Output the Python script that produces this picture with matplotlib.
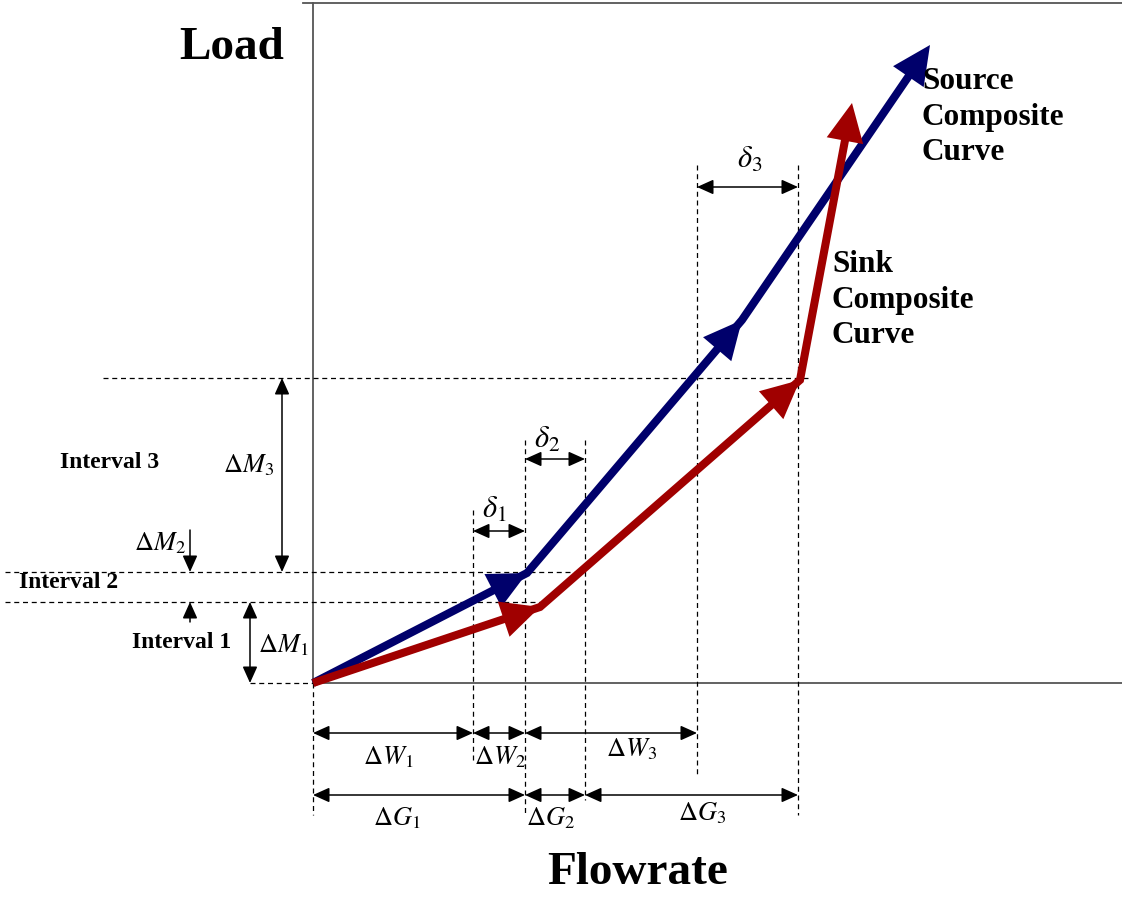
import numpy as np
import matplotlib.pyplot as plt

plt.rcParams['font.family'] = ['Liberation Serif', 'DejaVu Serif']
plt.rcParams['mathtext.fontset'] = 'stix'

# composite curves: (flowrate, load), origin at the corner of the axes
source_flow = [0, 214, 429, 617]
source_load = [0, 110, 363, 638]
sink_flow = [0, 227, 487, 539]
sink_load = [0, 76, 303, 580]

# interval boundaries
w_bounds = [0, 160, 212, 384]    # source flow steps  dW1..dW3
g_bounds = [0, 212, 272, 485]    # sink flow steps    dG1..dG3
m_bounds = [0, 81, 111, 305]     # load levels        dM1..dM3

w_labels = [r'$\Delta W_1$', r'$\Delta W_2$', r'$\Delta W_3$']
g_labels = [r'$\Delta G_1$', r'$\Delta G_2$', r'$\Delta G_3$']
d_labels = [r'$\delta_1$', r'$\delta_2$', r'$\delta_3$']

BLUE = '#00006b'
RED = '#a00000'
GREY = '#555555'


def px(x, y):
    # pixel position in the picture -> data coords
    return (x - 313, 683 - y)


fig = plt.figure(figsize=(11.22, 9), dpi=100)
ax = fig.add_axes([0, 0, 1, 1])
ax.set_xlim(-313, 809)
ax.set_ylim(-217, 683)
ax.axis('off')

# frame lines
ax.plot([0, 0], [0, 680], color=GREY, lw=1.3)
ax.plot([-10, 809], [680, 680], color=GREY, lw=1.3)
ax.plot([0, 809], [0, 0], color=GREY, lw=1.3)

dash = dict(color='black', lw=0.9, ls=(0, (4, 3)))
# horizontal guides at load levels
ax.plot([-210, 495], [m_bounds[3]] * 2, **dash)
ax.plot([-308, 269], [m_bounds[2]] * 2, **dash)
ax.plot([-308, sink_flow[1]], [m_bounds[1]] * 2, **dash)
ax.plot([-63, 0], [0, 0], **dash)
# vertical guides
ax.plot([0, 0], [0, -132], **dash)
ax.plot([w_bounds[1]] * 2, [173, -77], **dash)
ax.plot([g_bounds[1]] * 2, [243, -132], **dash)
ax.plot([g_bounds[2]] * 2, [243, -117], **dash)
ax.plot([w_bounds[3]] * 2, [518, -92], **dash)
ax.plot([g_bounds[3]] * 2, [518, -132], **dash)


def head(tip, back, color, scale=23):
    ax.annotate('', xy=tip, xytext=back,
                arrowprops=dict(arrowstyle='-|>,head_length=1.2,head_width=0.58',
                                mutation_scale=scale, lw=0, color=color,
                                shrinkA=0, shrinkB=0))


def curve(fx, fy, color):
    fx = np.array(fx, float)
    fy = np.array(fy, float)
    # pull last point back so the line hides under the arrowhead
    d = np.array([fx[-1] - fx[-2], fy[-1] - fy[-2]])
    d = d / np.hypot(*d)
    lx = fx.copy()
    ly = fy.copy()
    lx[-1] -= d[0] * 16
    ly[-1] -= d[1] * 16
    ax.plot(lx, ly, color=color, lw=5.8, solid_capstyle='butt',
            solid_joinstyle='miter')
    for i in range(1, len(fx)):
        head((fx[i], fy[i]), (fx[i - 1], fy[i - 1]), color)


curve(source_flow, source_load, BLUE)
curve(sink_flow, sink_load, RED)

dim = dict(arrowstyle='<|-|>,head_length=1.0,head_width=0.45',
           mutation_scale=10, lw=1.1, color='black', shrinkA=0, shrinkB=0)
one = dict(dim, arrowstyle='-|>,head_length=1.0,head_width=0.45')


def hdim(x1, x2, y):
    ax.annotate('', xy=(x2, y), xytext=(x1, y), arrowprops=dim)


def vdim(x, y1, y2):
    ax.annotate('', xy=(x, y2), xytext=(x, y1), arrowprops=dim)


for i in range(3):
    hdim(w_bounds[i], w_bounds[i + 1], -50)
    hdim(g_bounds[i], g_bounds[i + 1], -112)

hdim(w_bounds[1], w_bounds[2], 152)
hdim(g_bounds[1], g_bounds[2], 224)
hdim(w_bounds[3], g_bounds[3], 496)

vdim(-31, m_bounds[2], m_bounds[3])
vdim(-63, m_bounds[0], m_bounds[1])
ax.annotate('', xy=(-123, m_bounds[2]), xytext=(-123, 153), arrowprops=one)
ax.annotate('', xy=(-123, m_bounds[1]), xytext=(-123, 61), arrowprops=one)

# labels
mfs = 19
for lab, p in zip(w_labels, [(388, 757), (500, 757), (632, 749)]):
    ax.text(*px(*p), lab, fontsize=mfs, ha='center', va='center')
for lab, p in zip(g_labels, [(397, 818), (550, 818), (702, 813)]):
    ax.text(*px(*p), lab, fontsize=mfs, ha='center', va='center')
for lab, p in zip(d_labels, [(494, 510), (547, 440), (750, 160)]):
    ax.text(*px(*p), lab, fontsize=22, ha='center', va='center')

ax.text(*px(249, 465), r'$\Delta M_3$', fontsize=mfs, ha='center', va='center')
ax.text(*px(160, 543), r'$\Delta M_2$', fontsize=mfs, ha='center', va='center')
ax.text(*px(283, 645), r'$\Delta M_1$', fontsize=mfs, ha='center', va='center')

ifs = 17
ax.text(*px(110, 462), 'Interval 3', fontsize=ifs, fontweight='bold',
        ha='center', va='center')
ax.text(*px(69, 582), 'Interval 2', fontsize=ifs, fontweight='bold',
        ha='center', va='center')
ax.text(*px(182, 643), 'Interval 1', fontsize=ifs, fontweight='bold',
        ha='center', va='center')

ax.text(*px(232, 48), 'Load', fontsize=34, fontweight='bold',
        ha='center', va='center')
ax.text(*px(638, 873), 'Flowrate', fontsize=34, fontweight='bold',
        ha='center', va='center')

ax.text(*px(922, 67), 'Source\nComposite\nCurve', fontsize=22.5,
        fontweight='bold', ha='left', va='top', linespacing=1.3)
ax.text(*px(832, 250), 'Sink\nComposite\nCurve', fontsize=22.5,
        fontweight='bold', ha='left', va='top', linespacing=1.3)

fig.savefig('out.png', dpi=100)
